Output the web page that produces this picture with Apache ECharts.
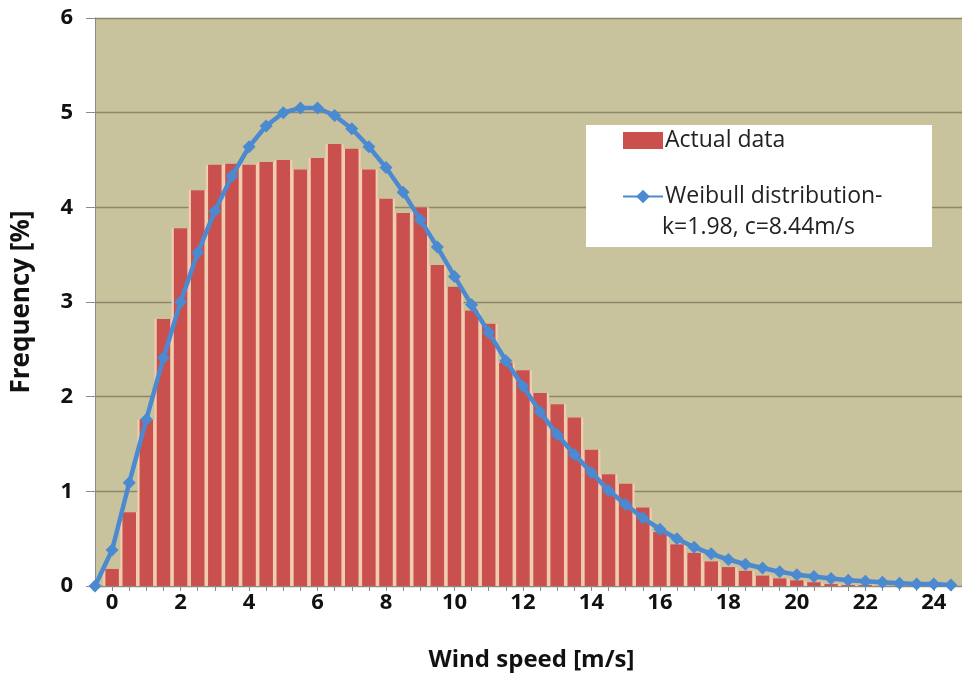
<!DOCTYPE html>
<html>
<head>
<meta charset="utf-8">
<script src="https://cdn.jsdelivr.net/npm/echarts@6/dist/echarts.min.js"></script>
<style>
  html, body { margin: 0; padding: 0; background: #fff; overflow: hidden; }
  /* a bit wider than the window: the plot runs off the right edge like the original */
  #chart { width: 968px; height: 679px; }
</style>
</head>
<body>
<div id="chart"></div>
<script>
// wind speed bins, 0.5 m/s steps
const speeds = ['-0.5', '0', '0.5', '1', '1.5', '2', '2.5', '3', '3.5', '4', '4.5', '5', '5.5', '6', '6.5', '7', '7.5', '8', '8.5', '9', '9.5',
  '10', '10.5', '11', '11.5', '12', '12.5', '13', '13.5', '14', '14.5', '15', '15.5', '16', '16.5', '17', '17.5', '18', '18.5', '19', '19.5',
  '20', '20.5', '21', '21.5', '22', '22.5', '23', '23.5', '24', '24.5', '25'];

const actualData = [0, 0.18, 0.78, 1.76, 2.82, 3.78, 4.18, 4.45, 4.46, 4.45, 4.48, 4.50, 4.40, 4.52, 4.67, 4.62, 4.40, 4.09, 3.94, 4.00,
  3.39, 3.16, 2.91, 2.77, 2.36, 2.28, 2.04, 1.92, 1.78, 1.44, 1.18, 1.08, 0.83, 0.57, 0.44, 0.35, 0.26, 0.20, 0.16, 0.11,
  0.08, 0.06, 0.04, 0.02, 0.01, 0.01, 0, 0, 0, 0, 0];

const weibull = [0, 0.38, 1.09, 1.76, 2.41, 3.00, 3.52, 3.96, 4.33, 4.64, 4.86, 5.00, 5.05, 5.05, 4.97, 4.83, 4.64, 4.42, 4.16, 3.87,
  3.58, 3.27, 2.97, 2.68, 2.38, 2.11, 1.84, 1.60, 1.39, 1.20, 1.01, 0.86, 0.72, 0.60, 0.50, 0.41, 0.34, 0.28, 0.23, 0.19,
  0.15, 0.12, 0.10, 0.08, 0.06, 0.05, 0.04, 0.03, 0.02, 0.02, 0.01];

const legendNames = ['Actual data', 'Weibull distribution-'];
const legendExtra = 'k=1.98, c=8.44m/s';

const font = '"Open Sans", Lato, sans-serif';

let option = {
  animation: false,
  backgroundColor: '#fff',
  grid: {
    left: 95,
    right: 0,
    top: 18,
    bottom: 93,
    show: true,
    backgroundColor: '#c8c29d',
    borderWidth: 0
  },
  legend: {
    data: [
      {name: legendNames[0], icon: 'rect'},
      {name: legendNames[1]}
    ],
    orient: 'vertical',
    left: 617,
    top: 124,
    itemGap: 33,
    itemWidth: 40,
    itemHeight: 17,
    textStyle: {fontFamily: font, fontSize: 23, color: '#222', padding: [0, 0, 0, -3]}
  },
  graphic: [
    {
      type: 'rect',
      z: 1,
      shape: {x: 586, y: 125, width: 346, height: 122},
      style: {fill: '#fff'}
    },
    {
      type: 'text',
      z: 5,
      left: 662,
      top: 216,
      style: {text: legendExtra, font: '23px ' + font, fill: '#222'}
    }
  ],
  xAxis: [
    {
      type: 'category',
      data: speeds,
      boundaryGap: false,
      name: 'Wind speed [m/s]',
      nameLocation: 'middle',
      nameGap: 62,
      nameTextStyle: {fontFamily: font, fontWeight: 'bold', fontSize: 24, color: '#111'},
      axisLine: {lineStyle: {color: '#8a8a8a', width: 1}},
      axisTick: {interval: 0, length: 5, lineStyle: {color: '#8a8a8a'}},
      axisLabel: {
        interval: function (i) { return i % 4 === 1; },
        margin: 6,
        fontFamily: font,
        fontWeight: 'bold',
        fontSize: 22,
        color: '#111'
      },
      splitLine: {show: false}
    },
    {
      // hidden twin axis for the light strips between bars
      type: 'category',
      data: speeds,
      boundaryGap: false,
      show: false
    }
  ],
  yAxis: {
    type: 'value',
    min: 0,
    max: 6,
    interval: 1,
    name: 'Frequency [%]',
    nameLocation: 'middle',
    nameRotate: 90,
    nameGap: 60,
    nameTextStyle: {fontFamily: font, fontWeight: 'bold', fontSize: 26, color: '#111'},
    axisLine: {show: true, lineStyle: {color: '#8a8a8a', width: 1}},
    axisTick: {show: true, length: 9, lineStyle: {color: '#8a8a8a'}},
    axisLabel: {margin: 22, fontFamily: font, fontWeight: 'bold', fontSize: 22, color: '#111'},
    splitLine: {lineStyle: {color: '#8c866c', width: 1.3}}
  },
  series: [
    {
      name: 'gap',
      type: 'bar',
      xAxisIndex: 1,
      data: actualData,
      barWidth: 18,
      itemStyle: {color: '#f0ccb0'},
      silent: true,
      z: 1
    },
    {
      name: legendNames[0],
      type: 'bar',
      data: actualData,
      barWidth: 13.5,
      itemStyle: {color: '#c9504c'},
      z: 2
    },
    {
      name: legendNames[1],
      type: 'line',
      data: weibull,
      showAllSymbol: true,
      symbol: 'diamond',
      symbolSize: 13,
      lineStyle: {color: '#4b89d0', width: 4.5},
      itemStyle: {color: '#4b89d0'},
      z: 3
    }
  ]
};

echarts.init(document.getElementById('chart')).setOption(option);
</script>
</body>
</html>
